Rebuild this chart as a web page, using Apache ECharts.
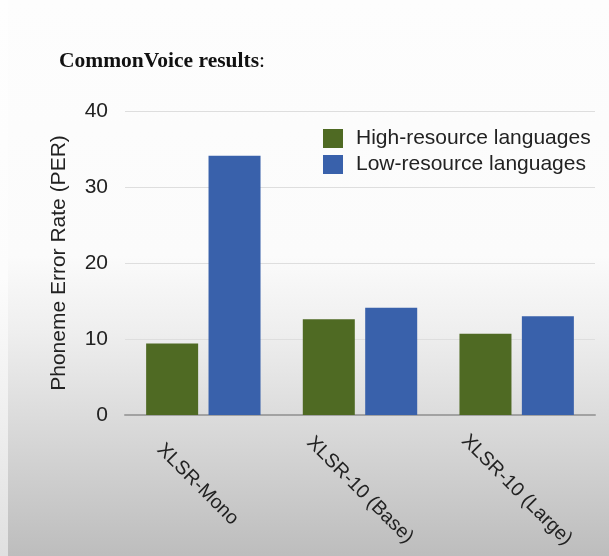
<!DOCTYPE html>
<html>
<head>
<meta charset="utf-8">
<style>
  html, body { margin: 0; padding: 0; }
  body {
    width: 609px; height: 556px; overflow: hidden; position: relative;
    background: linear-gradient(to bottom, #fdfdfd 0%, #fbfbfb 46%, #eeeeee 60%, #d9d9d9 77%, #bdbdbd 100%);
  }
  #edge {
    position: absolute; left: 0; top: 0; width: 8px; height: 556px;
    background: linear-gradient(to bottom, #fefefe 0%, #fcfcfc 50%, #efefef 75%, #e0e0e0 100%);
  }
  #chart { position: absolute; left: 0; top: 0; width: 609px; height: 556px; }
</style>
<script src="https://cdn.jsdelivr.net/npm/echarts@6/dist/echarts.min.js"></script>
</head>
<body>
<div id="edge"></div>
<div id="chart"></div>
<script>
const models = ['XLSR-Mono', 'XLSR-10 (Base)', 'XLSR-10 (Large)'];
const highResource = [9.4, 12.6, 10.7];
const lowResource = [34.1, 14.1, 13.0];
const seriesNames = ['High-resource languages', 'Low-resource languages'];
const yTicks = [0, 10, 20, 30, 40];

const FONT = '"Liberation Sans", Arial, Helvetica, sans-serif';
const GREEN = '#4f6a23';
const BLUE = '#3961ab';

// the shorter first label sits a little higher so all label tops line up
const labelPadding = [[0, 16, 16, 0], [0, 0, 0, 0], [0, 0, 0, 0]];

const chart = echarts.init(document.getElementById('chart'), null, { renderer: 'canvas' });

chart.setOption({
  backgroundColor: 'transparent',
  animation: false,
  title: {
    text: '{b|CommonVoice results}{n|:}',
    left: 59,
    top: 50,
    padding: 0,
    textStyle: {
      rich: {
        b: { fontFamily: '"Liberation Serif", "Times New Roman", serif', fontWeight: 'bold', fontSize: 21.5, color: '#111' },
        n: { fontFamily: '"Liberation Serif", "Times New Roman", serif', fontWeight: 'normal', fontSize: 21.5, color: '#111' }
      }
    }
  },
  legend: {
    orient: 'vertical',
    left: 323,
    top: 128,
    padding: 0,
    itemWidth: 20,
    itemHeight: 19,
    itemGap: 5,
    icon: 'rect',
    data: seriesNames,
    textStyle: { fontFamily: FONT, fontSize: 21, color: '#222', padding: [0, 0, 0, 8] }
  },
  grid: { left: 125, right: 14, top: 111, bottom: 141, outerBoundsMode: 'none' },
  xAxis: {
    type: 'category',
    data: models.map((m, i) => ({
      value: m,
      textStyle: { align: 'center', verticalAlign: 'middle', padding: labelPadding[i] }
    })),
    axisLine: { lineStyle: { color: '#a2a2a2', width: 2 } },
    axisTick: { show: false },
    axisLabel: {
      rotate: -45,
      align: 'center',
      verticalAlign: 'middle',
      margin: 75,
      interval: 0,
      fontFamily: FONT,
      fontSize: 19.5,
      color: '#222'
    },
    splitLine: { show: false }
  },
  yAxis: {
    type: 'value',
    min: yTicks[0],
    max: yTicks[yTicks.length - 1],
    interval: 10,
    name: 'Phoneme Error Rate (PER)',
    nameLocation: 'middle',
    nameGap: 55,
    nameRotate: 90,
    nameTextStyle: { fontFamily: FONT, fontSize: 21, color: '#222' },
    axisLine: { show: false },
    axisTick: { show: false },
    axisLabel: { margin: 17, fontFamily: FONT, fontSize: 21, color: '#222' },
    splitLine: { lineStyle: { color: '#dedede', width: 1 } }
  },
  series: [
    {
      name: seriesNames[0],
      type: 'bar',
      data: highResource,
      barWidth: 52,
      barGap: '20%',
      itemStyle: { color: GREEN }
    },
    {
      name: seriesNames[1],
      type: 'bar',
      data: lowResource,
      barWidth: 52,
      barGap: '20%',
      itemStyle: { color: BLUE }
    }
  ]
});
</script>
</body>
</html>
